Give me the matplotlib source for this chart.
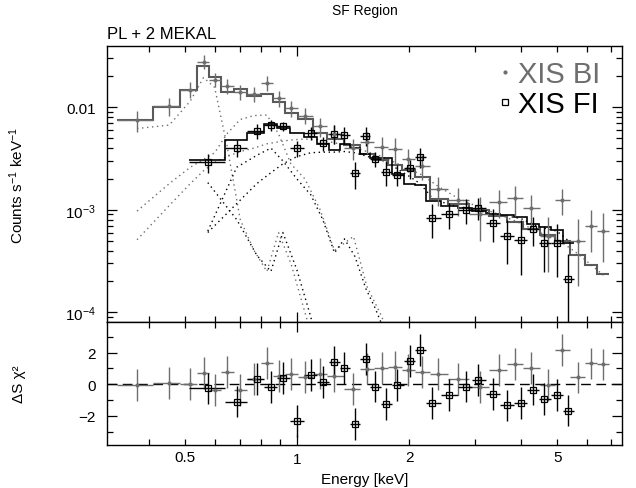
import numpy as np
import matplotlib
matplotlib.use('Agg')
import matplotlib.pyplot as plt
from matplotlib.ticker import FixedLocator, FuncFormatter, NullFormatter
from matplotlib.lines import Line2D

# ---- XIS BI (back-illuminated) spectrum ----
bi_energy = [0.371, 0.453, 0.516, 0.560, 0.600, 0.647, 0.703, 0.766, 0.829, 0.891,
             0.962, 1.049, 1.153, 1.26, 1.417, 1.539, 1.69, 1.83, 1.99, 2.16,
             2.39, 2.70, 3.10, 3.49, 3.85, 4.26, 4.72, 5.15, 5.70, 6.17, 6.66]
bi_edges = [0.328, 0.410, 0.4835, 0.5375, 0.580, 0.623, 0.6745, 0.734, 0.797, 0.859,
            0.926, 1.0045, 1.10, 1.205, 1.336, 1.477, 1.613, 1.759, 1.908, 2.073,
            2.272, 2.54, 2.893, 3.289, 3.666, 4.05, 4.484, 4.93, 5.418, 5.93, 6.41, 6.9]
bi_rate = [0.0075, 0.0102, 0.0149, 0.0279, 0.0186, 0.0163, 0.0142, 0.0135, 0.0173, 0.0123,
           0.0098, 0.0083, 0.00652, 0.0055, 0.0040, 0.00462, 0.00413, 0.00392, 0.00313, 0.00269,
           0.00159, 0.00125, 0.00091, 0.0012, 0.00129, 0.00103, 0.00055, 0.00124, 0.000498,
           0.000687, 0.000624]
bi_relerr = [0.23, 0.20, 0.18, 0.15, 0.16, 0.17, 0.17, 0.17, 0.16, 0.18,
             0.18, 0.18, 0.21, 0.21, 0.23, 0.25, 0.25, 0.28, 0.25, 0.28,
             0.32, 0.30, 0.46, 0.30, 0.32, 0.36, 0.55, 0.28, 0.64, 0.44, 0.50]
bi_resid = [-0.04, 0.06, 0.0, 0.69, -0.37, 0.77, -0.37, 0.31, 1.35, 0.52,
            0.625, 0.46, 0.67, 0.52, -0.31, 0.98, 1.04, 1.1, 0.9, 0.77,
            0.625, 0.31, -0.2, 0.9, 1.29, 1.02, -0.04, 2.15, 0.42, 1.31, 1.25]
# model components at BI bin centres (until they leave the plot)
bi_mekal_soft = [0.0062, 0.0067, 0.0115, 0.0195, 0.0156, 0.0043, 0.0008, 0.0004, 0.00025,
                 0.0006, 0.0003, 0.0001, 0.00003]
bi_mekal_hot = [0.00097, 0.0018, 0.0026, 0.0031, 0.0036, 0.0055, 0.0076, 0.0083, 0.0084,
                0.0055, 0.0028, 0.0020, 0.0010, 0.0004, 0.00055, 0.00018, 0.00009, 0.00004]
bi_powerlaw = [0.00051, 0.0011, 0.0018, 0.0024, 0.0029, 0.0033, 0.0037, 0.0040, 0.0044, 0.0046,
               0.0048, 0.0049, 0.0048, 0.0045, 0.0041, 0.0037, 0.0033, 0.0029, 0.0025, 0.0022,
               0.0017, 0.0013, 0.00105, 0.0009, 0.00078, 0.00066, 0.00055, 0.00048, 0.00037,
               0.00029, 0.00023]

# ---- XIS FI (front-illuminated) spectrum ----
fi_energy = [0.575, 0.688, 0.779, 0.850, 0.915, 0.998, 1.088, 1.172, 1.26, 1.34,
             1.43, 1.53, 1.62, 1.735, 1.86, 2.01, 2.14, 2.31, 2.56, 2.85,
             3.07, 3.36, 3.66, 4.0, 4.30, 4.62, 4.99, 5.36]
fi_edges = [0.513, 0.64, 0.732, 0.814, 0.882, 0.956, 1.042, 1.129, 1.215, 1.30,
            1.384, 1.479, 1.574, 1.677, 1.796, 1.933, 2.074, 2.223, 2.432, 2.70,
            2.958, 3.21, 3.507, 3.826, 4.147, 4.457, 4.80, 5.17, 5.56]
fi_rate = [0.0029, 0.00403, 0.00592, 0.00672, 0.00652, 0.00397, 0.00561, 0.00445, 0.0055, 0.0054,
           0.00226, 0.00528, 0.00313, 0.00235, 0.0022, 0.00255, 0.0033, 0.00084, 0.00091, 0.0010,
           0.00105, 0.00075, 0.00055, 0.00051, 0.00065, 0.00047, 0.00047, 0.00021]
fi_relerr = [0.21, 0.18, 0.17, 0.13, 0.10, 0.18, 0.14, 0.16, 0.21, 0.18,
             0.30, 0.21, 0.17, 0.28, 0.23, 0.21, 0.22, 0.37, 0.29, 0.28,
             0.24, 0.35, 0.46, 0.55, 0.32, 0.48, 0.53, 0.75]
fi_resid = [-0.27, -1.1, 0.31, -0.17, 0.375, -2.33, 0.58, 0.15, 1.42, 1.04,
            -2.54, 1.6, -0.15, -1.25, -0.06, 1.46, 2.15, -1.19, -0.67, -0.15,
            0.27, -0.625, -1.35, -1.21, -0.35, -0.94, -0.67, -1.67]
fi_mekal_soft = [0.00184, 0.0008, 0.00036, 0.00025, 0.0006, 0.00026, 0.00009, 0.00003]
fi_mekal_hot = [0.00062, 0.0026, 0.0034, 0.0040, 0.0030, 0.0020, 0.0014, 0.0008, 0.00038,
                0.00052, 0.00035, 0.00017, 0.00011, 0.00006]
fi_powerlaw = [0.0006, 0.00115, 0.0018, 0.0023, 0.0028, 0.0033, 0.0036, 0.00365, 0.00365, 0.0037,
               0.0036, 0.00335, 0.00315, 0.00295, 0.0025, 0.0021, 0.0018, 0.0013, 0.00112, 0.00104,
               0.00098, 0.00091, 0.00087, 0.00082, 0.00072, 0.00066, 0.00062, 0.00050]

xtick_values = [0.5, 1, 2, 5]
xtick_labels = ['0.5', '1', '2', '5']
ytick_values = [1e-4, 1e-3, 1e-2]
ytick_labels = [r'$10^{-4}$', r'$10^{-3}$', '0.01']

GRAY = '#6e6e6e'
GRAY_MODEL = '#5a5a5a'


def draw_detector(ax, rx, energy, edges, rate, relerr, resid, comps, color, mcolor,
                  marker, ms, mfc, lw_model):
    e = np.array(energy)
    ed = np.array(edges)
    f = np.array(rate)
    err = f * np.array(relerr)
    r = np.array(resid)
    xerr = [e - ed[:-1], ed[1:] - e]
    model = f - r * err

    ax.stairs(model, ed, baseline=None, color=mcolor, lw=lw_model, zorder=3)
    for c in comps:
        ax.plot(e[:len(c)], c, color=color, lw=1.0, ls=(0, (1, 2.6)), zorder=2)
    ax.errorbar(e, f, xerr=xerr, yerr=err, fmt='none', ecolor=color, elinewidth=1.0,
                zorder=4)
    ax.plot(e, f, ls='none', marker=marker, ms=ms, mfc=mfc, mec=color, mew=0.9,
            color=color, zorder=5)

    rx.errorbar(e, r, xerr=xerr, yerr=1.0, fmt='none', ecolor=color, elinewidth=1.0,
                zorder=4)
    rx.plot(e, r, ls='none', marker=marker, ms=ms, mfc=mfc, mec=color, mew=0.9,
            color=color, zorder=5)


def main():
    plt.rcParams['font.family'] = ['Liberation Sans', 'DejaVu Sans']
    plt.rcParams['mathtext.fontset'] = 'custom'
    plt.rcParams['mathtext.rm'] = 'Liberation Sans'
    plt.rcParams['mathtext.it'] = 'Liberation Sans:italic'
    plt.rcParams['mathtext.bf'] = 'Liberation Sans:bold'
    plt.rcParams['font.size'] = 11

    fig = plt.figure(figsize=(6.36, 4.89), dpi=100)
    ax = fig.add_axes([0.1682, 0.3395, 0.8097, 0.5644])
    rx = fig.add_axes([0.1682, 0.0879, 0.8097, 0.2516])

    draw_detector(ax, rx, bi_energy, bi_edges, bi_rate, bi_relerr, bi_resid,
                  [bi_mekal_soft, bi_mekal_hot, bi_powerlaw], GRAY, GRAY_MODEL,
                  'o', 2.0, GRAY, 1.5)
    draw_detector(ax, rx, fi_energy, fi_edges, fi_rate, fi_relerr, fi_resid,
                  [fi_mekal_soft, fi_mekal_hot, fi_powerlaw], 'black', 'black',
                  's', 4.0, 'none', 1.2)

    rx.axhline(0, color='black', lw=1.0, ls=(0, (7, 4)), zorder=1)

    for a in (ax, rx):
        a.set_xscale('log')
        a.set_xlim(0.308, 7.47)
        a.xaxis.set_major_locator(FixedLocator([1.0]))
        a.xaxis.set_minor_locator(FixedLocator([0.4, 0.5, 0.6, 0.7, 0.8, 0.9,
                                                2, 3, 4, 5, 6, 7]))
        a.tick_params(which='both', direction='in', top=True, right=True,
                      width=0.9, labelsize=11)
        a.tick_params(which='major', length=7)
        a.tick_params(which='minor', length=4)
        a.tick_params(axis='y', pad=8)
        a.tick_params(axis='x', pad=5)
        for s in a.spines.values():
            s.set_linewidth(1.0)

    ax.set_yscale('log')
    ax.set_ylim(8.04e-5, 0.0396)
    ax.yaxis.set_major_locator(FixedLocator(ytick_values))
    ax.set_yticklabels(ytick_labels)
    ax.yaxis.set_minor_formatter(NullFormatter())
    ax.tick_params(axis='x', which='both', labelbottom=False)

    labels = dict(zip(xtick_values, xtick_labels))
    fmt = FuncFormatter(lambda v, _: labels.get(round(v, 3), ''))
    rx.xaxis.set_major_formatter(fmt)
    rx.xaxis.set_minor_formatter(fmt)
    rx.set_ylim(-3.85, 3.93)
    rx.yaxis.set_major_locator(FixedLocator([-2, 0, 2]))
    rx.yaxis.set_minor_locator(FixedLocator([-3, -1, 1, 3]))
    rx.set_yticklabels(['\u22122', '0', '2'])

    rx.set_xlabel('Energy [keV]', fontsize=11, labelpad=4)
    ax.set_ylabel(r'Counts s$^{-1}$ keV$^{-1}$', fontsize=11)
    rx.set_ylabel('\u0394S \u03c7\u00b2', fontsize=11)
    ax.yaxis.set_label_coords(-0.157, 0.5)
    rx.yaxis.set_label_coords(-0.157, 0.5)

    fig.text(0.574, 1 - 15 / 489, 'SF Region', ha='center', va='baseline', fontsize=10)
    fig.text(0.1682, 1 - 39 / 489, 'PL + 2 MEKAL', ha='left', va='baseline', fontsize=12)

    handles = [Line2D([], [], ls='none', marker='o', ms=2.0, color=GRAY),
               Line2D([], [], ls='none', marker='s', ms=4.0, mfc='none', mec='black',
                      mew=0.9)]
    ax.legend(handles, ['XIS BI', 'XIS FI'], loc='upper right',
              bbox_to_anchor=(0.958, 0.948), frameon=False, fontsize=21,
              handlelength=0.4, handletextpad=0.25, labelspacing=0.05,
              borderaxespad=0, borderpad=0, labelcolor=[GRAY, 'black'])

    fig.savefig('out.png', dpi=100)


if __name__ == '__main__':
    main()
